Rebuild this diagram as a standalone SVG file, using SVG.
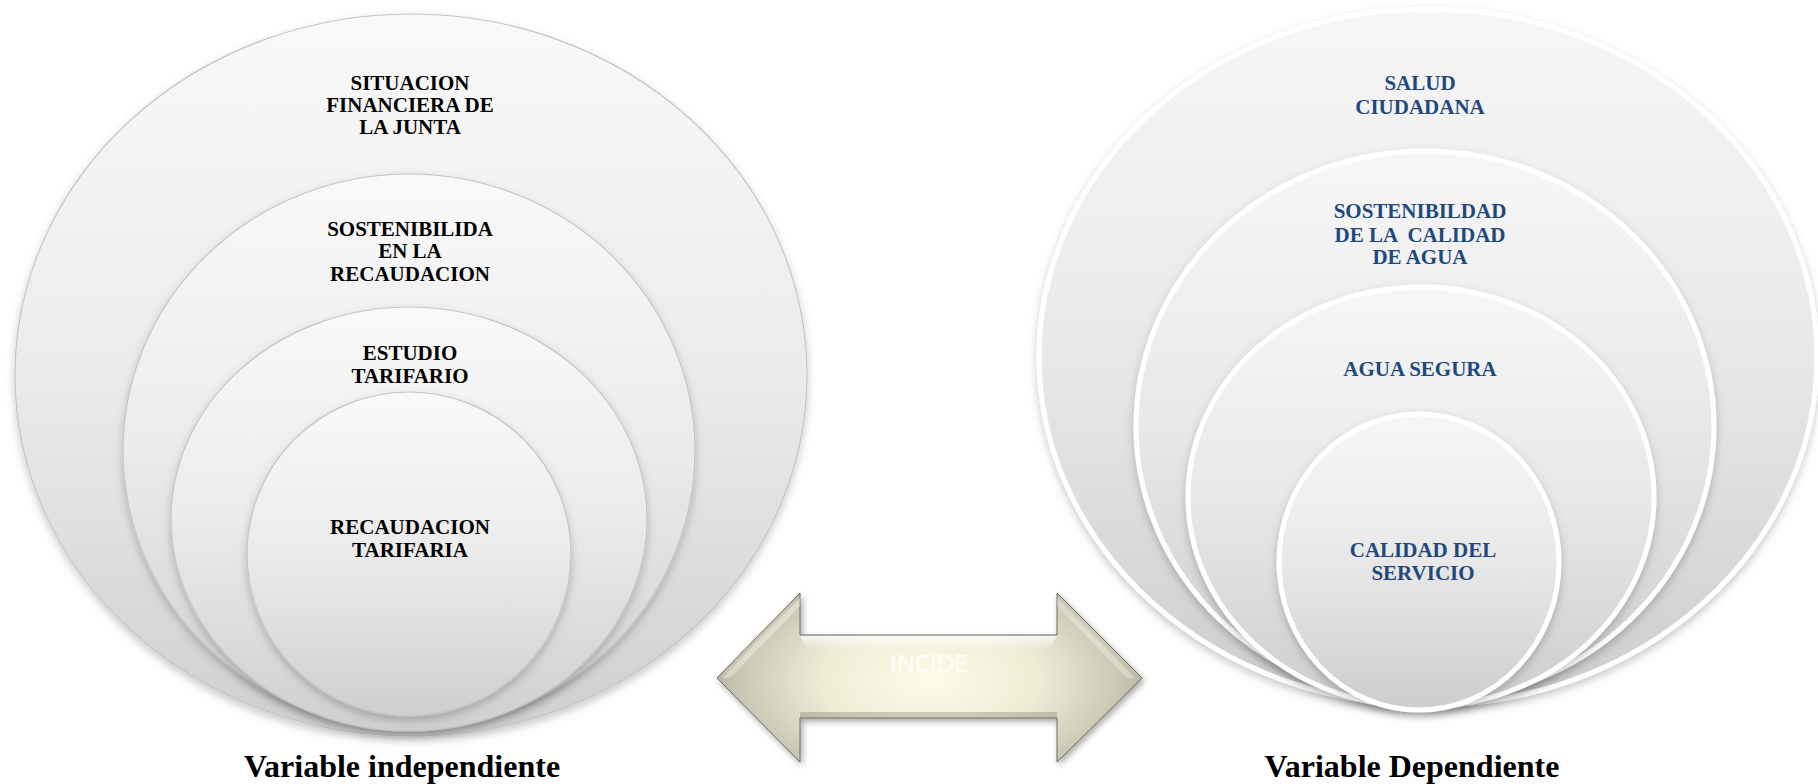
<svg xmlns="http://www.w3.org/2000/svg" width="1818" height="784" viewBox="0 0 1818 784">
  <defs>
    <linearGradient id="gL" x1="0" y1="0" x2="0" y2="1">
      <stop offset="0" stop-color="#f9f9f9"/>
      <stop offset="0.5" stop-color="#ebebeb"/>
      <stop offset="1" stop-color="#cfcfcf"/>
    </linearGradient>
    <linearGradient id="gR" x1="0" y1="0" x2="0" y2="1">
      <stop offset="0" stop-color="#f7f7f7"/>
      <stop offset="0.5" stop-color="#e8e8e8"/>
      <stop offset="1" stop-color="#cdcdcd"/>
    </linearGradient>
    <radialGradient id="gA" cx="930" cy="680" r="240" gradientUnits="userSpaceOnUse" gradientTransform="translate(930 680) scale(1 0.55) translate(-930 -680)">
      <stop offset="0" stop-color="#fefce6"/>
      <stop offset="0.45" stop-color="#efecd6"/>
      <stop offset="0.8" stop-color="#c9c7b3"/>
      <stop offset="1" stop-color="#a3a28f"/>
    </radialGradient>
    <linearGradient id="gTop" x1="0" y1="0" x2="0" y2="1">
      <stop offset="0" stop-color="#ffffff" stop-opacity="0.75"/>
      <stop offset="1" stop-color="#ffffff" stop-opacity="0"/>
    </linearGradient>
    <filter id="sh" x="-10%" y="-10%" width="120%" height="125%">
      <feDropShadow dx="0" dy="4" stdDeviation="4" flood-color="#000" flood-opacity="0.22"/>
    </filter>
    <filter id="shA" x="-10%" y="-20%" width="120%" height="140%">
      <feDropShadow dx="2" dy="3" stdDeviation="3" flood-color="#000" flood-opacity="0.35"/>
    </filter>
  </defs>
  <style>
    .cl { fill: url(#gL); stroke: #c4c4c4; stroke-width: 1.2; filter: url(#sh); }
    .cr { fill: url(#gR); stroke: #ffffff; stroke-width: 5; filter: url(#sh); }
    .tl { font-family: "Liberation Serif", "Times New Roman", serif; font-weight: bold; font-size: 21px; fill: #000; text-anchor: middle; }
    .tr { font-family: "Liberation Serif", "Times New Roman", serif; font-weight: bold; font-size: 21px; fill: #1f497d; text-anchor: middle; }
    .cap { font-family: "Liberation Serif", "Times New Roman", serif; font-weight: bold; font-size: 32px; fill: #000; text-anchor: middle; }
    .inc { font-family: "Open Sans", "Liberation Sans", sans-serif; font-size: 24px; fill: #ffffff; text-anchor: middle; }
  </style>

  <g id="left-outer">
    <ellipse class="cl" cx="411" cy="375" rx="396" ry="361"/>
    <text class="tl" x="410" y="90">SITUACION</text>
    <text class="tl" x="410" y="112">FINANCIERA DE</text>
    <text class="tl" x="410" y="134">LA JUNTA</text>
  </g>
  <g id="left-2">
    <ellipse class="cl" cx="409" cy="451" rx="286" ry="277"/>
    <text class="tl" x="410" y="236">SOSTENIBILIDA</text>
    <text class="tl" x="410" y="258">EN LA</text>
    <text class="tl" x="410" y="281">RECAUDACION</text>
  </g>
  <g id="left-3">
    <ellipse class="cl" cx="409" cy="519" rx="238" ry="212"/>
    <text class="tl" x="410" y="360">ESTUDIO</text>
    <text class="tl" x="410" y="383">TARIFARIO</text>
  </g>
  <g id="left-4">
    <ellipse class="cl" cx="409" cy="554" rx="162" ry="162"/>
    <text class="tl" x="410" y="534">RECAUDACION</text>
    <text class="tl" x="410" y="557">TARIFARIA</text>
  </g>
  <g id="label-left">
    <text class="cap" x="402" y="777">Variable independiente</text>
  </g>

  <g id="right-outer">
    <ellipse class="cr" cx="1428" cy="357" rx="389" ry="348"/>
    <text class="tr" x="1420" y="90">SALUD</text>
    <text class="tr" x="1420" y="114">CIUDADANA</text>
  </g>
  <g id="right-2">
    <ellipse class="cr" cx="1425" cy="426" rx="289" ry="275"/>
    <text class="tr" x="1420" y="218">SOSTENIBILDAD</text>
    <text class="tr" x="1420" y="242" xml:space="preserve">DE LA  CALIDAD</text>
    <text class="tr" x="1420" y="264">DE AGUA</text>
  </g>
  <g id="right-3">
    <ellipse class="cr" cx="1421" cy="497" rx="233" ry="210"/>
    <text class="tr" x="1420" y="376">AGUA SEGURA</text>
  </g>
  <g id="right-4">
    <ellipse class="cr" cx="1419" cy="562" rx="140" ry="148"/>
    <text class="tr" x="1423" y="557">CALIDAD DEL</text>
    <text class="tr" x="1423" y="580">SERVICIO</text>
  </g>
  <g id="label-right">
    <text class="cap" x="1412" y="777">Variable Dependiente</text>
  </g>

  <g id="connectors">
    <g id="arrow-incide">
      <path d="M717,678 L800,593 L800,635 L1057,635 L1057,593 L1142,678 L1057,762 L1057,718 L800,718 L800,762 Z" fill="url(#gA)" stroke="#6e6d60" stroke-width="1" filter="url(#shA)"/>
      <path d="M800,636 L1057,636 L1049,650 L808,650 Z" fill="url(#gTop)"/>
      <path d="M730,678 L800,606 L800,598 L722,678 Z" fill="#ffffff" fill-opacity="0.35"/>
      <path d="M1057,598 L1135,678 L1127,678 L1057,606 Z" fill="#ffffff" fill-opacity="0.3"/>
      <path d="M800,718 L1057,718 L1057,712 L800,712 Z" fill="#7d7c6d" fill-opacity="0.35"/>
      <text class="inc" x="929" y="672">INCIDE</text>
    </g>
  </g>
</svg>
